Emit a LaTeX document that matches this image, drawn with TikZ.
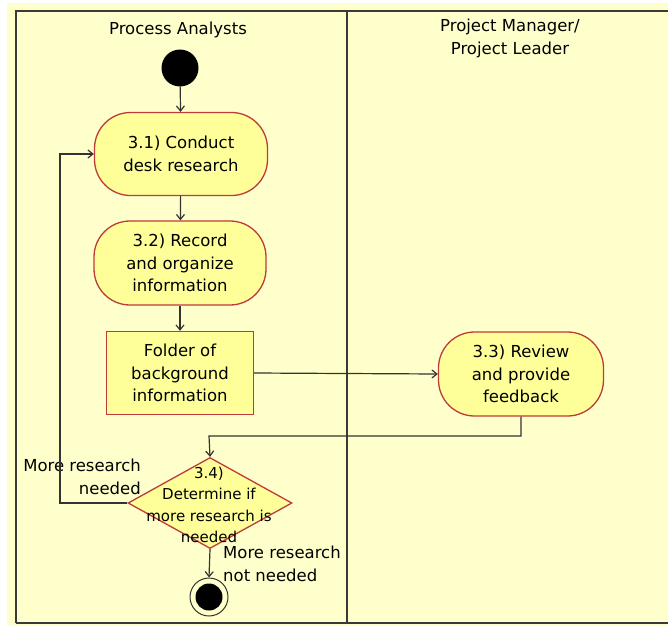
\documentclass[tikz,border=0pt]{standalone}
\usepackage{fontspec}
\setmainfont{DejaVu Sans}
\usetikzlibrary{arrows.meta,shapes.geometric}
\definecolor{lanebg}{HTML}{FFFFCC}
\definecolor{boxfill}{HTML}{FFFF99}
\definecolor{boxline}{HTML}{C0393B}
\definecolor{ink}{HTML}{333333}
\definecolor{framec}{HTML}{3A3A3A}
\begin{document}
\begin{tikzpicture}[x=1pt,y=-1pt,
  every node/.style={font=\fontsize{16.5}{22.5}\selectfont, text=black},
  act/.style={draw=boxline, line width=1.3pt, fill=boxfill, rectangle,
    rounded corners=36pt, minimum width=172pt, minimum height=84pt,
    align=center, inner sep=0pt},
  objbox/.style={draw=boxline, line width=1.3pt, fill=boxfill, rectangle,
    minimum width=147pt, minimum height=83pt, align=center, inner sep=0pt},
  decbox/.style={draw=boxline, line width=1.3pt, fill=boxfill, diamond,
    minimum width=164pt, minimum height=91pt, inner sep=0pt},
  startdot/.style={circle, fill=black, minimum size=37pt, inner sep=0pt},
  enddot/.style={circle, draw=ink, line width=1pt, fill=lanebg,
    minimum size=38pt, inner sep=0pt},
  flow/.style={draw=ink, line width=1.2pt, -{Straight Barb[length=5pt,width=8pt]}},
  lane/.style={draw=framec, line width=2pt},
  guard/.style={inner sep=0pt}
]
\useasboundingbox (0,0) rectangle (668,626);
\fill[white] (0,0) rectangle (668,626);
\fill[lanebg] (7,3) rectangle (668,626);

% swimlane frame
\draw[lane] (16,623) -- (16,11) -- (668,11);
\draw[lane] (16,623) -- (668,623);
\draw[lane] (347,11) -- (347,623);

\node (laneA) at (178,30) {Process Analysts};
\node[align=center, font=\fontsize{16.5}{23}\selectfont] (laneB) at (510,38) {Project Manager/\\Project Leader};

% activities
\node[startdot] (start) at (180,68) {};
\node[act, minimum width=173pt, minimum height=83pt] (a31) at (181,154) {3.1) Conduct\\desk research};
\node[act] (a32) at (180,263) {3.2) Record\\and organize\\information};
\node[objbox] (fold) at (180,373) {Folder of\\background\\information};
\node[act, minimum width=165pt] (a33) at (521,374) {3.3) Review\\and provide\\feedback};
\node[decbox] (dec) at (210,503) {};
\node[align=center, font=\fontsize{15}{21.3}\selectfont] (dectext) at (209,505) {3.4)\\Determine if\\more research is\\needed};
\node[enddot] (finish) at (209,597) {};
\node[circle, fill=black, minimum size=27pt, inner sep=0pt] (finishin) at (209,597) {};

% guard labels
\node[guard, anchor=east, align=right] (gyes) at (141,477) {More research\\needed};
\node[guard, anchor=west, align=left, font=\fontsize{16.5}{23.5}\selectfont] (gno) at (223,564) {More research\\not needed};

% bend points
\coordinate (back) at (60,154);
\coordinate (join) at (209,436);

% connectors
\draw[flow] (start) -- (a31);
\draw[flow] (a31) -- (a32);
\draw[flow] (a32) -- (fold);
\draw[flow] (fold.east) -- (a33.west);
\draw[flow] (a33.south) |- (join) -- (dec.north);
\draw[flow] (dec.west) -| (back) -- (a31.west);
\draw[flow] (dec.south) -- (finish.north);
\end{tikzpicture}
\end{document}
